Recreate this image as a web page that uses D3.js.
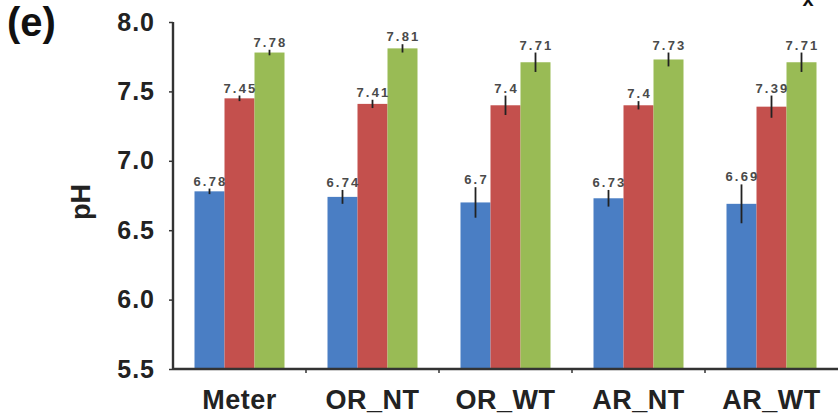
<!DOCTYPE html>
<html>
<head>
<meta charset="utf-8">
<script src="https://cdn.jsdelivr.net/npm/d3@7"></script>
<style>
  body { margin: 0; background: #fff; }
  text { font-family: "Liberation Sans", Arial, sans-serif; }
</style>
</head>
<body>
<div id="chart-area"></div>
<script>
// Data
const categories = ["Meter", "OR_NT", "OR_WT", "AR_NT", "AR_WT"];
const series = ["s1", "s2", "s3"];
const seriesColors = ["#4a7ec4", "#c4504d", "#99bb55"];
const valuesS1 = [6.78, 6.74, 6.7, 6.73, 6.69];
const valuesS2 = [7.45, 7.41, 7.4, 7.4, 7.39];
const valuesS3 = [7.78, 7.81, 7.71, 7.73, 7.71];
const errS1 = [0.02, 0.05, 0.11, 0.06, 0.14];
const errS2 = [0.02, 0.03, 0.07, 0.03, 0.08];
const errS3 = [0.02, 0.03, 0.07, 0.05, 0.07];
const yTicks = [5.5, 6.0, 6.5, 7.0, 7.5, 8.0];

const values = [valuesS1, valuesS2, valuesS3];
const errs = [errS1, errS2, errS3];

// Dimensions
const width = 838, height = 418;
const margin = { left: 173, right: 0, top: 22, bottom: 49 };

const svg = d3.select("#chart-area")
  .append("svg")
    .attr("width", width)
    .attr("height", height);

const chart = svg.append("g");

// scales
const x0 = d3.scaleBand()
  .domain(categories)
  .range([margin.left, width - margin.right])
  .paddingInner(0)
  .paddingOuter(0);

const x1 = d3.scaleBand()
  .domain(series)
  .range([21.5, x0.bandwidth() - 21.5]);

const y = d3.scaleLinear()
  .domain([5.5, 8.0])
  .range([height - margin.bottom, margin.top]);

// bars, one group per category
const rows = [];
categories.forEach((c, i) => {
  series.forEach((s, j) => {
    rows.push({ cat: c, s: s, j: j, v: values[j][i], e: errs[j][i] });
  });
});

chart.selectAll("rect.bar")
  .data(rows)
  .enter().append("rect")
    .attr("class", "bar")
    .attr("x", d => x0(d.cat) + x1(d.s))
    .attr("width", x1.bandwidth())
    .attr("y", d => y(d.v))
    .attr("height", d => y(5.5) - y(d.v))
    .attr("fill", d => seriesColors[d.j]);

// error bars (no caps)
chart.selectAll("line.err")
  .data(rows)
  .enter().append("line")
    .attr("class", "err")
    .attr("x1", d => x0(d.cat) + x1(d.s) + x1.bandwidth() / 2)
    .attr("x2", d => x0(d.cat) + x1(d.s) + x1.bandwidth() / 2)
    .attr("y1", d => y(d.v + d.e))
    .attr("y2", d => y(d.v - d.e))
    .attr("stroke", "#222")
    .attr("stroke-width", 1.8);

// value labels (wide, short text like the scan)
chart.selectAll("text.val")
  .data(rows)
  .enter().append("text")
    .attr("class", "val")
    .attr("x", d => x0(d.cat) + x1(d.s) + x1.bandwidth() / 2 + 1)
    .attr("y", d => y(d.v + d.e) - 3)
    .attr("text-anchor", "middle")
    .attr("font-size", "13px")
    .attr("font-weight", "bold")
    .attr("letter-spacing", "2.2px")
    .attr("fill", "#4a4a4a")
    .text(d => d.v);

// axes
const yAxis = chart.append("g")
  .attr("transform", `translate(${margin.left},0)`)
  .call(d3.axisLeft(y).tickValues(yTicks).tickFormat(d3.format(".1f")).tickSize(4).tickPadding(14));

const xAxis = chart.append("g")
  .attr("transform", `translate(0,${height - margin.bottom})`)
  .call(d3.axisBottom(x0).tickSize(0).tickPadding(21));

// category boundary ticks
chart.selectAll("line.xtick")
  .data(categories.slice(1))
  .enter().append("line")
    .attr("class", "xtick")
    .attr("x1", d => x0(d))
    .attr("x2", d => x0(d))
    .attr("y1", height - margin.bottom)
    .attr("y2", height - margin.bottom + 4)
    .attr("stroke", "#333")
    .attr("stroke-width", 1.5);

[yAxis, xAxis].forEach(a => {
  a.select(".domain").attr("stroke", "#333").attr("stroke-width", 2.4);
  a.selectAll(".tick line").attr("stroke", "#333").attr("stroke-width", 1.5);
  a.selectAll(".tick text")
    .attr("font-weight", "bold")
    .attr("fill", "#222")
    .style("font-family", "'Liberation Sans', Arial, sans-serif");
});
yAxis.selectAll(".tick text").attr("font-size", "25px").attr("letter-spacing", "1px");
xAxis.selectAll(".tick text").attr("font-size", "27px").attr("letter-spacing", "0.5px");
yAxis.select(".domain").attr("d", `M-0,${y(8.0)}V${y(5.5)}`);
xAxis.select(".domain").attr("d", `M${margin.left},0H${width}`);

// Y label
chart.append("text")
  .attr("transform", `translate(90,202) rotate(-90)`)
  .attr("text-anchor", "middle")
  .attr("font-size", "27px")
  .attr("font-weight", "bold")
  .attr("fill", "#222")
  .text("pH");

// panel label
chart.append("text")
  .attr("x", 7)
  .attr("y", 36)
  .attr("font-size", "40px")
  .attr("font-weight", "bold")
  .attr("fill", "#111")
  .text("(e)");

// cut-off mark at top right
chart.append("text")
  .attr("x", 808)
  .attr("y", 6)
  .attr("text-anchor", "middle")
  .attr("font-size", "20px")
  .attr("font-weight", "bold")
  .attr("fill", "#111")
  .text("x");
</script>
</body>
</html>
